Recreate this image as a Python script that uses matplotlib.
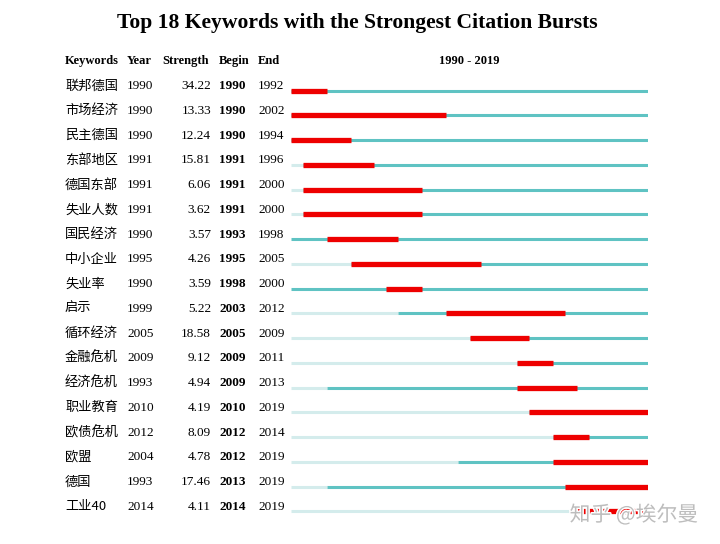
import matplotlib
matplotlib.use("Agg")
import matplotlib.pyplot as plt
import matplotlib.patheffects as pe

keywords = ["联邦德国", "市场经济", "民主德国", "东部地区", "德国东部", "失业人数",
            "国民经济", "中小企业", "失业率", "启示", "循环经济", "金融危机",
            "经济危机", "职业教育", "欧债危机", "欧盟", "德国", "工业40"]
years = [1990, 1990, 1990, 1991, 1991, 1991, 1990, 1995, 1990, 1999, 2005, 2009,
         1993, 2010, 2012, 2004, 1993, 2014]
strengths = [34.22, 13.33, 12.24, 15.81, 6.06, 3.62, 3.57, 4.26, 3.59, 5.22, 18.58,
             9.12, 4.94, 4.19, 8.09, 4.78, 17.46, 4.11]
begins = [1990, 1990, 1990, 1991, 1991, 1991, 1993, 1995, 1998, 2003, 2005, 2009,
          2009, 2010, 2012, 2012, 2013, 2014]
ends = [1992, 2002, 1994, 1996, 2000, 2000, 1998, 2005, 2000, 2012, 2009, 2011,
        2013, 2019, 2014, 2019, 2019, 2019]
start_year, end_year = 1990, 2019

serif = "Liberation Serif"
cjk = ["Noto Sans CJK SC", "DejaVu Sans"]

W, H = 720, 544
fig = plt.figure(figsize=(7.2, 5.44), dpi=100)
fig.patch.set_facecolor("white")

row0 = 86.0
step = 24.76
ytop = (0 - row0) / step
ybot = (H - row0) / step

ax = fig.add_axes([0, 0, 1, 1])
ax.set_xlim(0, W)
ax.set_ylim(ybot, ytop)
ax.axis("off")

tl_left, tl_right = 291, 648
tl = fig.add_axes([tl_left / W, 0, (tl_right - tl_left) / W, 1])
tl.set_xlim(start_year, end_year + 1)
tl.set_ylim(ybot, ytop)
tl.axis("off")

ax.text(357, (23 - row0) / step, "Top 18 Keywords with the Strongest Citation Bursts",
        ha="center", va="center", fontsize=15.6, fontweight="bold", family=serif)

hy = (60.5 - row0) / step
hdr_kw = dict(va="center", fontsize=9, fontweight="bold", family=serif)
ax.text(65, hy, "Keywords", ha="left", **hdr_kw)
ax.text(127, hy, "Year", ha="left", **hdr_kw)
ax.text(162, hy, "Strength", ha="left", **hdr_kw)
ax.text(219, hy, "Begin", ha="left", **hdr_kw)
ax.text(258, hy, "End", ha="left", **hdr_kw)
ax.text(469, hy, f"{start_year} - {end_year}", ha="center", **hdr_kw)

light = "#d4ecec"
teal = "#5fc3c3"
red = "#ee0000"
off = 4.5 / step

for i, (kw, yr, st, b, e) in enumerate(zip(keywords, years, strengths, begins, ends)):
    ax.text(65, i, kw, ha="left", va="center", fontsize=9.5, family=cjk)
    ax.text(127, i, str(yr), ha="left", va="center", fontsize=9.5, family=serif)
    ax.text(211, i, f"{st:.2f}", ha="right", va="center", fontsize=9.5, family=serif)
    ax.text(219, i, str(b), ha="left", va="center", fontsize=9.5, fontweight="bold", family=serif)
    ax.text(258, i, str(e), ha="left", va="center", fontsize=9.5, family=serif)
    ly = i + off
    if yr > start_year:
        tl.hlines(ly, start_year, yr, colors=light, linewidth=2.2, capstyle="butt")
    tl.hlines(ly, yr, end_year + 1, colors=teal, linewidth=2.2, capstyle="butt")
    tl.hlines(ly, b, e + 1, colors=red, linewidth=3.8, capstyle="butt")

fig.text(634 / W, 1 - 515 / H, "知乎 @埃尔曼", ha="center", va="center",
         fontsize=15, family=cjk, color="#bdbdbd", zorder=10,
         path_effects=[pe.withStroke(linewidth=2, foreground="white")])

fig.savefig("out.png", dpi=100, facecolor="white")
